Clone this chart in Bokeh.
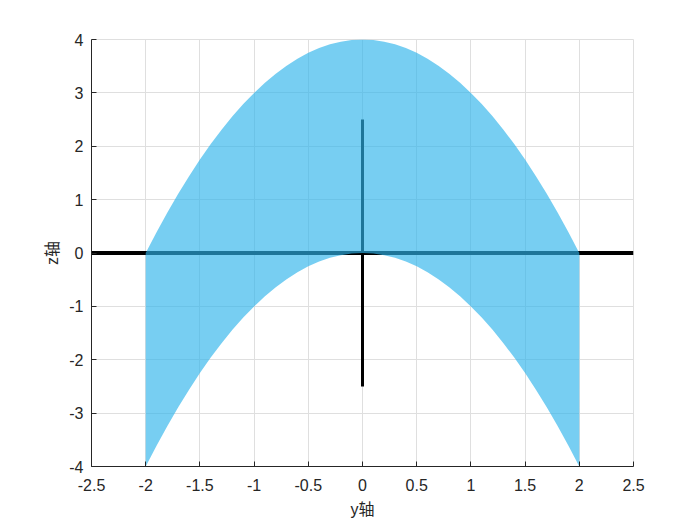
from bokeh.plotting import figure
from bokeh.models import Range1d, FixedTicker, CustomJSTickFormatter
from bokeh.embed import file_html
from bokeh.resources import INLINE

# data
y_vals = [-2.0, -1.9, -1.8, -1.7, -1.6, -1.5, -1.4, -1.3, -1.2, -1.1, -1.0,
          -0.9, -0.8, -0.7, -0.6, -0.5, -0.4, -0.3, -0.2, -0.1, 0.0,
          0.1, 0.2, 0.3, 0.4, 0.5, 0.6, 0.7, 0.8, 0.9, 1.0,
          1.1, 1.2, 1.3, 1.4, 1.5, 1.6, 1.7, 1.8, 1.9, 2.0]
z_upper = [0.0, 0.39, 0.76, 1.11, 1.44, 1.75, 2.04, 2.31, 2.56, 2.79, 3.0,
           3.19, 3.36, 3.51, 3.64, 3.75, 3.84, 3.91, 3.96, 3.99, 4.0,
           3.99, 3.96, 3.91, 3.84, 3.75, 3.64, 3.51, 3.36, 3.19, 3.0,
           2.79, 2.56, 2.31, 2.04, 1.75, 1.44, 1.11, 0.76, 0.39, 0.0]
z_lower = [-4.0, -3.61, -3.24, -2.89, -2.56, -2.25, -1.96, -1.69, -1.44, -1.21, -1.0,
           -0.81, -0.64, -0.49, -0.36, -0.25, -0.16, -0.09, -0.04, -0.01, 0.0,
           -0.01, -0.04, -0.09, -0.16, -0.25, -0.36, -0.49, -0.64, -0.81, -1.0,
           -1.21, -1.44, -1.69, -1.96, -2.25, -2.56, -2.89, -3.24, -3.61, -4.0]
hline_y = [-2.5, 2.5]
hline_z = [0.0, 0.0]
vline_y = [0.0, 0.0]
vline_z = [-2.5, 2.5]
x_ticks = [-2.5, -2.0, -1.5, -1.0, -0.5, 0.0, 0.5, 1.0, 1.5, 2.0, 2.5]
z_ticks = [-4, -3, -2, -1, 0, 1, 2, 3, 4]
x_label = "y轴"
z_label = "z轴"

FONT = "Liberation Sans, Noto Sans CJK SC"
TXT = "#262626"

p = figure(frame_width=542, frame_height=427,
           min_border_left=91, min_border_top=39, min_border_right=50, min_border_bottom=58,
           x_range=Range1d(-2.5, 2.5), y_range=Range1d(-4, 4),
           output_backend="svg", toolbar_location=None,
           background_fill_color="white", border_fill_color="white")

p.outline_line_color = "#DFDFDF"
p.outline_line_width = 1

for ax, ticks in ((p.xaxis, x_ticks), (p.yaxis, z_ticks)):
    ax.ticker = FixedTicker(ticks=ticks)
    ax.formatter = CustomJSTickFormatter(code="return tick.toString();")
    ax.major_tick_in = 5
    ax.major_tick_out = 0
    ax.minor_tick_in = 0
    ax.minor_tick_out = 0
    ax.axis_line_color = TXT
    ax.major_tick_line_color = TXT
    ax.major_label_text_font = FONT
    ax.major_label_text_font_size = "16px"
    ax.major_label_text_color = TXT
    ax.axis_label_text_font = FONT
    ax.axis_label_text_font_size = "16px"
    ax.axis_label_text_font_style = "normal"
    ax.axis_label_text_color = TXT

p.xaxis.axis_label = x_label
p.yaxis.axis_label = z_label
p.xaxis.major_label_standoff = 12
p.yaxis.major_label_standoff = 8
p.xaxis.axis_label_standoff = 7
p.yaxis.axis_label_standoff = 5

p.xgrid.ticker = FixedTicker(ticks=x_ticks)
p.ygrid.ticker = FixedTicker(ticks=z_ticks)
p.grid.grid_line_color = "#DFDFDF"
p.grid.grid_line_width = 1

p.line(hline_y, hline_z, line_color="black", line_width=4)
p.line(vline_y, vline_z, line_color="black", line_width=3)

p.varea(x=y_vals, y1=z_lower, y2=z_upper, fill_color="#2EB4EB", fill_alpha=0.65)

open("out.html", "w").write(file_html(p, INLINE))
